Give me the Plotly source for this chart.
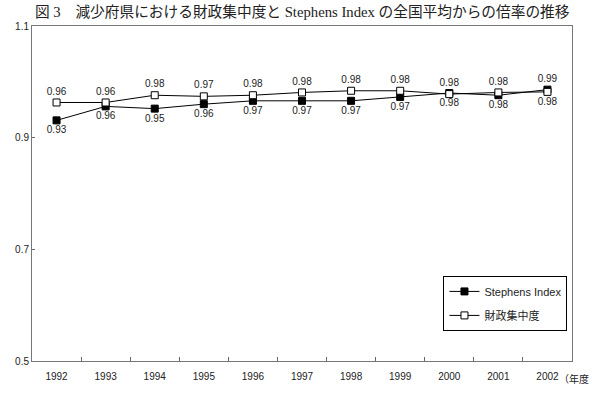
import plotly.graph_objects as go

years = ["1992", "1993", "1994", "1995", "1996", "1997", "1998", "1999", "2000", "2001", "2002"]
stephens = [0.931, 0.956, 0.952, 0.960, 0.966, 0.966, 0.966, 0.973, 0.980, 0.976, 0.986]
zaisei = [0.963, 0.963, 0.976, 0.974, 0.976, 0.981, 0.984, 0.984, 0.978, 0.981, 0.982]
stephens_pos = ["bottom center"] * 10 + ["top center"]
zaisei_pos = ["top center"] * 10 + ["bottom center"]

title = "図 3　減少府県における財政集中度と Stephens Index の全国平均からの倍率の推移"
font_main = "Liberation Sans, Noto Sans CJK JP, sans-serif"

fig = go.Figure()
fig.add_trace(go.Scatter(
    x=years, y=stephens, name="Stephens Index", legendgroup="a",
    mode="lines+markers+text",
    text=[f"{v:.2f}" for v in stephens], textposition=stephens_pos,
    textfont=dict(size=10, color="#222", family=font_main),
    line=dict(color="black", width=1),
    marker=dict(symbol="square", size=7, color="black", line=dict(color="black", width=1)),
))
fig.add_trace(go.Scatter(
    x=years, y=zaisei, name="財政集中度", legendgroup="b",
    mode="lines+markers+text",
    text=[f"{v:.2f}" for v in zaisei], textposition=zaisei_pos,
    textfont=dict(size=10, color="#222", family=font_main),
    line=dict(color="black", width=1),
    marker=dict(symbol="square", size=7, color="white", line=dict(color="black", width=1)),
))

fig.update_layout(
    width=592, height=420,
    margin=dict(l=32, r=20, t=26, b=59),
    paper_bgcolor="white", plot_bgcolor="white",
    font=dict(family=font_main, size=10, color="#222"),
    showlegend=True,
    legend=dict(
        x=0.762, y=0.254, xanchor="left", yanchor="top",
        bordercolor="black", borderwidth=1, bgcolor="white",
        font=dict(size=11, family=font_main),
        itemwidth=30, tracegroupgap=5,
    ),
    annotations=[
        dict(text=title, x=0.5, y=1, xref="paper", yref="paper",
             xanchor="center", yanchor="top", showarrow=False, yshift=24,
             font=dict(size=14.7, family="Liberation Serif, Noto Sans CJK JP, serif", color="#222")),
        dict(text="（年度", x=1.035, y=0, xref="paper", yref="paper",
             xanchor="right", yanchor="top", showarrow=False, yshift=-8,
             font=dict(size=10, family="Noto Sans CJK JP, sans-serif", color="#222")),
    ],
)
fig.update_xaxes(
    type="category", range=[-0.5, 10.5],
    tickson="boundaries", ticks="inside", ticklen=4, tickcolor="#666",
    showline=True, linecolor="#777", linewidth=1, mirror=True,
    showgrid=False, zeroline=False, ticklabelstandoff=6,
)
fig.update_yaxes(
    range=[0.5, 1.1], dtick=0.2, tick0=0.5, tickformat=".1f",
    ticks="inside", ticklen=3, tickcolor="#666",
    showline=True, linecolor="#777", linewidth=1, mirror=True,
    showgrid=False, zeroline=False,
)

fig.write_html("out.html")
